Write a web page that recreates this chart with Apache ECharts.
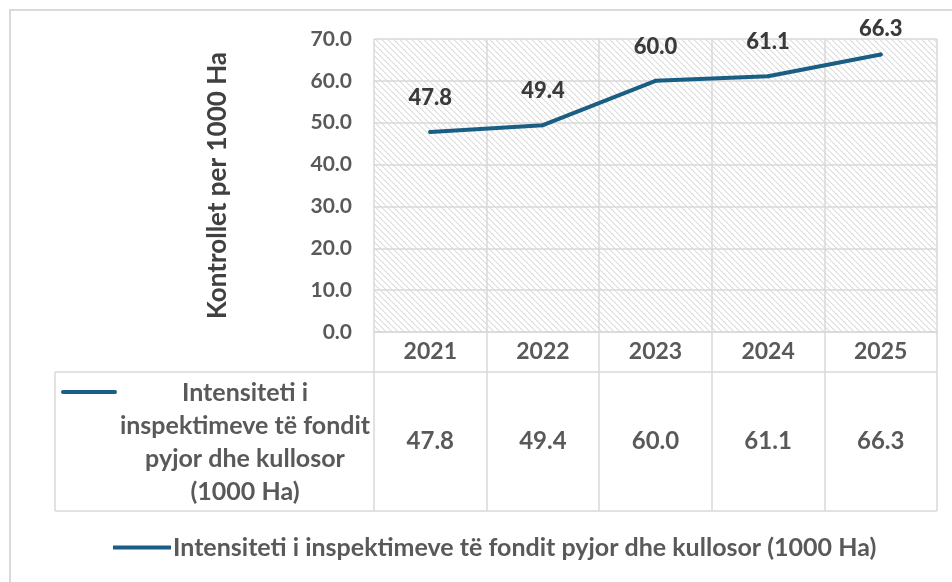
<!DOCTYPE html>
<html>
<head>
<meta charset="utf-8">
<script src="https://cdn.jsdelivr.net/npm/echarts@6/dist/echarts.min.js"></script>
<style>
html, body { margin: 0; padding: 0; background: #fff; }
#chart { width: 952px; height: 582px; }
</style>
</head>
<body>
<div id="chart"></div>
<script>
// data
var years = ['2021', '2022', '2023', '2024', '2025']
var intensity = [47.8, 49.4, 60.0, 61.1, 66.3]
var seriesName = 'Intensiteti i inspektimeve të fondit pyjor dhe kullosor (1000 Ha)'
var tableName = 'Intensiteti i\ninspektimeve të fondit\npyjor dhe kullosor\n(1000 Ha)'
var yTitle = 'Kontrollet per 1000 Ha'
var yMin = 0, yMax = 70, yStep = 10

// layout
var plotLeft = 374, plotRight = 937, plotTop = 39, plotBottom = 332
var headerBottom = 372, tableBottom = 511, legendCellLeft = 55
var lineColor = '#1a5e84'
var gridColor = '#d9d9d9'
var font = 'Lato, "Open Sans", sans-serif'

// hatched plot background
function hatch() {
    var p = 6
    var c = document.createElement('canvas')
    c.width = p
    c.height = p
    var ctx = c.getContext('2d')
    ctx.fillStyle = '#ffffff'
    ctx.fillRect(0, 0, p, p)
    for (var i = 0; i < p; i++) {
        ctx.fillStyle = '#dcdcdc'
        ctx.fillRect(i, i, 1, 1)
        ctx.fillStyle = '#f0f0f0'
        ctx.fillRect((i + 1) % p, i, 1, 1)
    }
    return c
}

// the last label sits a bit closer to the line (it is near the top edge)
var lineData = intensity.map(function (v, i) {
    if (i === intensity.length - 1) {
        return { value: v, label: { distance: 13 } }
    }
    return v
})

var chart = echarts.init(document.getElementById('chart'), null, { renderer: 'canvas' })

var option = {
    animation: false,
    backgroundColor: '#ffffff',
    textStyle: { fontFamily: font },
    grid: {
        left: plotLeft,
        right: 952 - plotRight,
        top: plotTop,
        bottom: 582 - plotBottom,
        show: true,
        borderWidth: 0,
        backgroundColor: { image: hatch(), repeat: 'repeat' }
    },
    legend: {
        bottom: 17,
        left: 108,
        itemWidth: 58,
        itemHeight: 4,
        itemGap: 0,
        icon: 'rect',
        data: [seriesName],
        textStyle: { fontFamily: font, fontSize: 25, fontWeight: 'bold', color: '#595959', padding: [0, 0, 0, -3] }
    },
    xAxis: [
        {
            type: 'category',
            data: years,
            boundaryGap: true,
            axisLine: { show: true, lineStyle: { color: gridColor, width: 1.5 } },
            axisTick: { show: true, length: tableBottom - plotBottom, lineStyle: { color: gridColor, width: 1.5 } },
            splitLine: { show: true, lineStyle: { color: gridColor, width: 1.5 } },
            axisLabel: { margin: 8, fontFamily: font, fontSize: 23, fontWeight: 'bold', color: '#595959' }
        },
        {
            type: 'category',
            data: intensity.map(function (v) { return v.toFixed(1) }),
            position: 'bottom',
            offset: 87,
            axisLine: { show: false },
            axisTick: { show: false },
            splitLine: { show: false },
            axisLabel: { margin: 10, fontFamily: font, fontSize: 24, fontWeight: 'bold', color: '#595959' }
        }
    ],
    yAxis: {
        type: 'value',
        min: yMin,
        max: yMax,
        interval: yStep,
        name: yTitle,
        nameLocation: 'middle',
        nameRotate: 90,
        nameGap: 143,
        nameTextStyle: { fontFamily: font, fontSize: 26, fontWeight: 'bold', color: '#404040' },
        axisLine: { show: false },
        axisTick: { show: false },
        splitLine: { show: true, lineStyle: { color: gridColor, width: 1.5 } },
        axisLabel: {
            margin: 22,
            fontFamily: font,
            fontSize: 21,
            fontWeight: 'bold',
            color: '#595959',
            formatter: function (v) { return v.toFixed(1) }
        }
    },
    series: [
        {
            name: seriesName,
            type: 'line',
            data: lineData,
            color: lineColor,
            symbol: 'circle',
            symbolSize: 4,
            showSymbol: true,
            itemStyle: { color: lineColor },
            lineStyle: { width: 4, color: lineColor, cap: 'round' },
            label: {
                show: true,
                position: 'top',
                distance: 21,
                fontFamily: font,
                fontSize: 22,
                fontWeight: 900,
                color: '#3a3a3a',
                textBorderColor: 'transparent',
                textBorderWidth: 0,
                textShadowBlur: 0,
                formatter: function (p) { return p.value.toFixed(1) }
            }
        }
    ],
    graphic: [
        // chart frame (cropped at right and bottom)
        { type: 'rect', shape: { x: 10, y: 10, width: 980, height: 620 }, style: { fill: null, stroke: gridColor, lineWidth: 2 }, silent: true },
        // data table frame
        { type: 'line', shape: { x1: legendCellLeft, y1: headerBottom, x2: plotRight, y2: headerBottom }, style: { stroke: gridColor, lineWidth: 1.5 } },
        { type: 'line', shape: { x1: legendCellLeft, y1: tableBottom, x2: plotRight, y2: tableBottom }, style: { stroke: gridColor, lineWidth: 1.5 } },
        { type: 'line', shape: { x1: legendCellLeft, y1: headerBottom, x2: legendCellLeft, y2: tableBottom }, style: { stroke: gridColor, lineWidth: 1.5 } },
        // legend key inside the table
        { type: 'line', shape: { x1: 63, y1: 392, x2: 115, y2: 392 }, style: { stroke: lineColor, lineWidth: 4, lineCap: 'round' } },
        {
            type: 'text',
            x: 245,
            y: 376,
            style: {
                text: tableName,
                align: 'center',
                verticalAlign: 'top',
                lineHeight: 33,
                font: 'bold 25px ' + font,
                fill: '#595959'
            }
        }
    ]
}

chart.setOption(option)
</script>
</body>
</html>
